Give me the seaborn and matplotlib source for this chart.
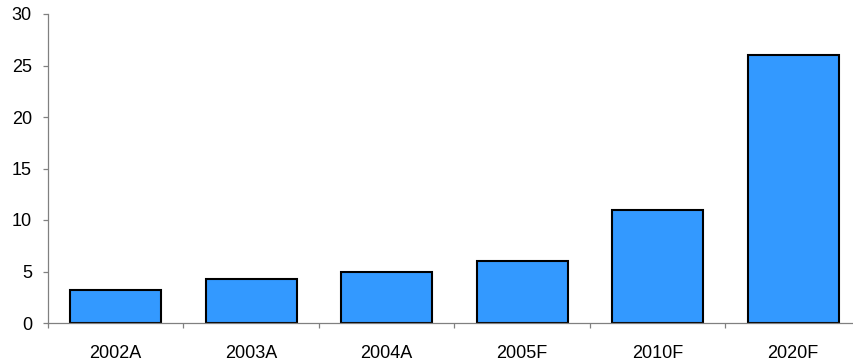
import matplotlib
matplotlib.use("Agg")
import matplotlib.pyplot as plt
import seaborn as sns
import pandas as pd
import numpy as np

# Values per period (A = actual, F = forecast)
periods = ["2002A", "2003A", "2004A", "2005F", "2010F", "2020F"]
values = [3.2, 4.3, 5.0, 6.0, 11.0, 26.0]
y_ticks = [0, 5, 10, 15, 20, 25, 30]

sns.set_style("white")
plt.rcParams["font.family"] = ["Liberation Sans", "DejaVu Sans"]

df = pd.DataFrame({"period": periods, "value": values})

fig = plt.figure(figsize=(8.54, 3.64), dpi=100)
W, H = 854, 364
ax = fig.add_axes([48 / W, 41 / H, 813 / W, 309 / H])

sns.barplot(data=df, x="period", y="value", color="#3399FF", saturation=1,
            width=0.67, edgecolor="black", linewidth=1.5, ax=ax)

ax.set_ylim(0, 30)
ax.set_xlim(-0.5, len(periods) - 0.5)
ax.set_yticks(y_ticks)
ax.set_yticklabels([str(t) for t in y_ticks])

# Tick marks at category boundaries, labels at category centres
ax.set_xticks(np.arange(len(periods) + 1) - 0.5)
ax.set_xticklabels([])
ax.set_xticks(np.arange(len(periods)), minor=True)
ax.set_xticklabels(periods, minor=True)

grey = "#808080"
for side in ("top", "right"):
    ax.spines[side].set_visible(False)
for side in ("left", "bottom"):
    ax.spines[side].set_color(grey)
    ax.spines[side].set_linewidth(0.9)

ax.tick_params(axis="y", which="major", direction="out", length=3.6, width=0.9,
               color=grey, labelsize=13, pad=8, left=True, labelcolor="black")
ax.tick_params(axis="x", which="major", direction="out", length=3.6, width=0.9,
               color=grey, bottom=True)
ax.tick_params(axis="x", which="minor", length=0, labelsize=13, pad=16,
               labelcolor="black")

ax.set_xlabel("")
ax.set_ylabel("")

fig.savefig("out.png", dpi=100)
